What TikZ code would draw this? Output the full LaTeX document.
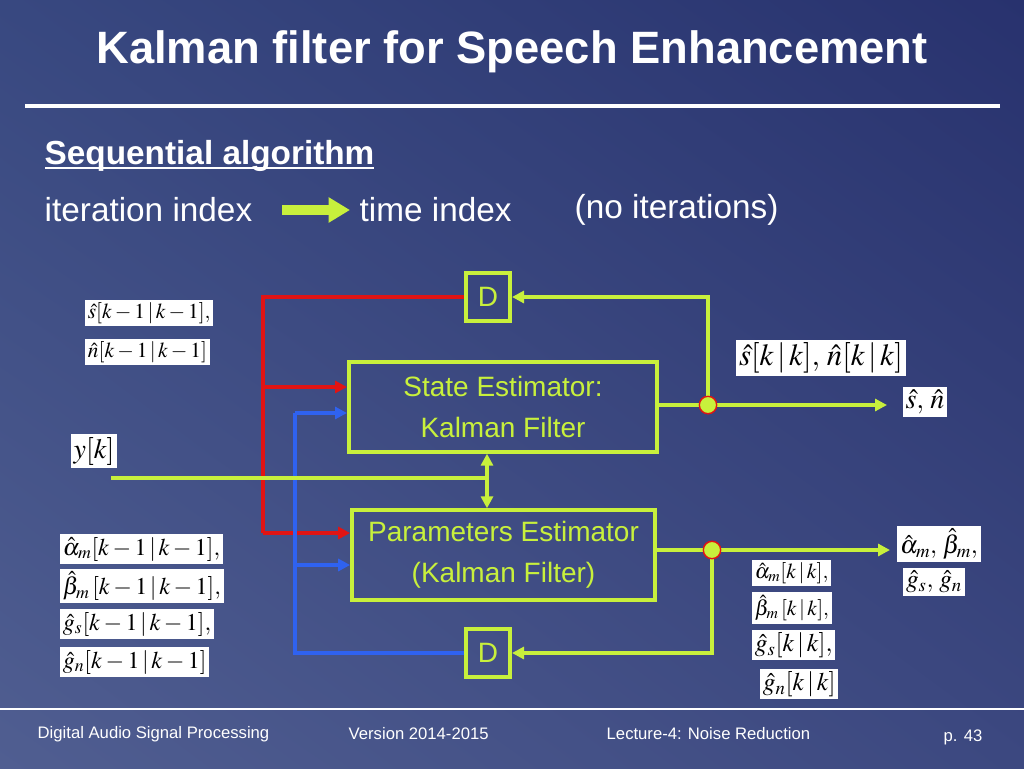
\documentclass[tikz,border=0pt]{standalone}
\usepackage{mathptmx}
\usepackage[no-math]{fontspec}
\setmainfont{Liberation Sans}
\usetikzlibrary{arrows.meta,shadings}
\definecolor{lime}{HTML}{C8F03C}
\definecolor{kred}{HTML}{E01414}
\definecolor{kblue}{HTML}{2F62F0}
\definecolor{bgul}{RGB}{56,72,128}
\definecolor{bgur}{RGB}{40,50,110}
\definecolor{bgll}{RGB}{80,94,145}
\definecolor{bglr}{RGB}{60,72,128}
\newcommand{\fs}[1]{\fontsize{#1}{#1}\selectfont}
\tikzset{
  blockbox/.style={draw=lime,line width=3pt,text=lime,font=\fontsize{21}{31}\selectfont,align=center,inner sep=0pt},
  delaybox/.style={draw=lime,line width=3pt,text=lime,font=\fs{21},minimum width=33pt,minimum height=36pt,inner sep=0pt},
  tag/.style={fill=white,text=black,inner sep=2pt},
  lin/.style={line width=2.5pt},
  arr/.style={line width=2.5pt,-{Triangle[length=9pt,width=9pt]}},
  junction/.style={circle,fill=lime,draw=kred,line width=1pt,minimum size=13pt,inner sep=0pt},
  slide/.style={text=white,anchor=west}
}
\begin{document}
\begin{tikzpicture}[x=0.75pt,y=-0.75pt]
  \useasboundingbox (0,0) rectangle (1024,768);
  \shade[upper left=bgul,upper right=bgur,lower left=bgll,lower right=bglr]
         (0,0) rectangle (1024,768);
  % title and header
  \node[text=white,font=\bfseries\fs{34}] (title) at (512,52) {Kalman filter for Speech Enhancement};
  \draw[white,line width=3pt] (25,106) -- (1000,106);
  \node[slide,font=\bfseries\fs{25}] (seq) at (40,156) {Sequential algorithm};
  \draw[white,line width=1.5pt] (seq.south west) ++(5,-8) -- ([shift={(-5,-8)}]seq.south east);
  \node[slide,font=\fs{25}] (iter) at (40,210) {iteration index};
  \node[slide,font=\fs{25}] (time) at (355,210) {time index};
  \node[slide,font=\fs{25}] (noit) at (570,210) {(no iterations)};
  \coordinate (fatA) at (282,210);
  \coordinate (fatB) at (350,210);
  \draw[lime,line width=8pt,-{Triangle[length=16pt,width=18pt]}] (fatA) -- (fatB);
  % blocks
  \node[blockbox,minimum width=231pt,minimum height=67pt] (state) at (503,407) {State Estimator:\\Kalman Filter};
  \node[blockbox,minimum width=227pt,minimum height=67pt] (param) at (503.5,555) {Parameters Estimator\\(Kalman Filter)};
  \node[delaybox] (dtop) at (488,297) {D};
  \node[delaybox] (dbot) at (488,653) {D};
  % red feedback
  \coordinate (rc) at (263,297);
  \coordinate (rb) at (263,533);
  \draw[kred,lin] (dtop.west) -- (rc) -- (rb);
  \draw[kred,arr] (rb) -- (param.west |- rb);
  \draw[kred,arr] (263,387) -- (state.west |- 0,387);
  % blue feedback
  \coordinate (bc) at (295,653);
  \coordinate (bt) at (295,413);
  \draw[kblue,lin] (dbot.west) -- (bc) -- (bt);
  \draw[kblue,arr] (bt) -- (state.west |- bt);
  \draw[kblue,arr] (295,565) -- (param.west |- 0,565);
  % observation
  \coordinate (yin) at (111,478);
  \coordinate (ymid) at (487,478);
  \draw[lime,lin] (yin) -- (ymid);
  \draw[lime,line width=2.5pt,{Triangle[length=9pt,width=9pt]}-{Triangle[length=9pt,width=9pt]}] (state.south -| ymid) -- (param.north -| ymid);
  % outputs
  \node[junction] (js) at (708,405) {};
  \node[junction] (jp) at (712,550) {};
  \coordinate (sout) at (887,405);
  \coordinate (pout) at (890,550);
  \draw[lime,lin] (state.east |- js) -- (js);
  \draw[lime,arr] (js) -- (sout);
  \draw[lime,lin] (param.east |- jp) -- (jp);
  \draw[lime,arr] (jp) -- (pout);
  \draw[lime,arr] (js) -- (708,297) -- (dtop.east);
  \draw[lime,arr] (jp) -- (712,653) -- (dbot.east);
  \node[junction] at (js) {};
  \node[junction] at (jp) {};
  % labels
  \node[tag,font=\fs{16},anchor=west] (sprev) at (85,313) {$\hat{s}[k-1\,|\,k-1],$};
  \node[tag,font=\fs{16},anchor=west] (nprev) at (85,352) {$\hat{n}[k-1\,|\,k-1]$};
  \node[tag,font=\fs{21}] (ylab) at (94,451) {$y[k]$};
  \node[tag,font=\fs{18},anchor=west] (aprev) at (60,549) {$\hat{\alpha}_m[k-1\,|\,k-1],$};
  \node[tag,font=\fs{18},anchor=west] (bprev) at (60,586) {$\hat{\beta}_m\,[k-1\,|\,k-1],$};
  \node[tag,font=\fs{18},anchor=west] (gsprev) at (60,624) {$\hat{g}_s[k-1\,|\,k-1],$};
  \node[tag,font=\fs{18},anchor=west] (gnprev) at (60,662) {$\hat{g}_n[k-1\,|\,k-1]$};
  \node[tag,font=\fs{23}] (snnow) at (821,358) {$\hat{s}[k\,|\,k],\,\hat{n}[k\,|\,k]$};
  \node[tag,font=\fs{21}] (snout) at (925,402) {$\hat{s},\,\hat{n}$};
  \node[tag,font=\fs{19}] (about) at (939,544) {$\hat{\alpha}_m,\,\hat{\beta}_m,$};
  \node[tag,font=\fs{19}] (gout) at (934,582) {$\hat{g}_s,\,\hat{g}_n$};
  \node[tag,font=\fs{16},anchor=west] (anow) at (752,573) {$\hat{\alpha}_m[k\,|\,k],$};
  \node[tag,font=\fs{16},anchor=west] (bnow) at (752,608) {$\hat{\beta}_m\,[k\,|\,k],$};
  \node[tag,font=\fs{19},anchor=west] (gsnow) at (752,645) {$\hat{g}_s[k\,|\,k],$};
  \node[tag,font=\fs{19},anchor=west] (gnnow) at (760,684) {$\hat{g}_n[k\,|\,k]$};
  % footer
  \draw[white,line width=1.5pt] (0,709) -- (1024,709);
  \node[slide,font=\fs{12.5}] (f1) at (33,734) {Digital Audio Signal Processing};
  \node[slide,font=\fs{12.5}] (f2) at (344,734) {Version 2014-2015};
  \node[slide,font=\fs{12.5}] (f3) at (602,734) {Lecture-4: Noise Reduction};
  \node[slide,font=\fs{12.5}] (f4) at (939,737) {p. 43};
\end{tikzpicture}
\end{document}
